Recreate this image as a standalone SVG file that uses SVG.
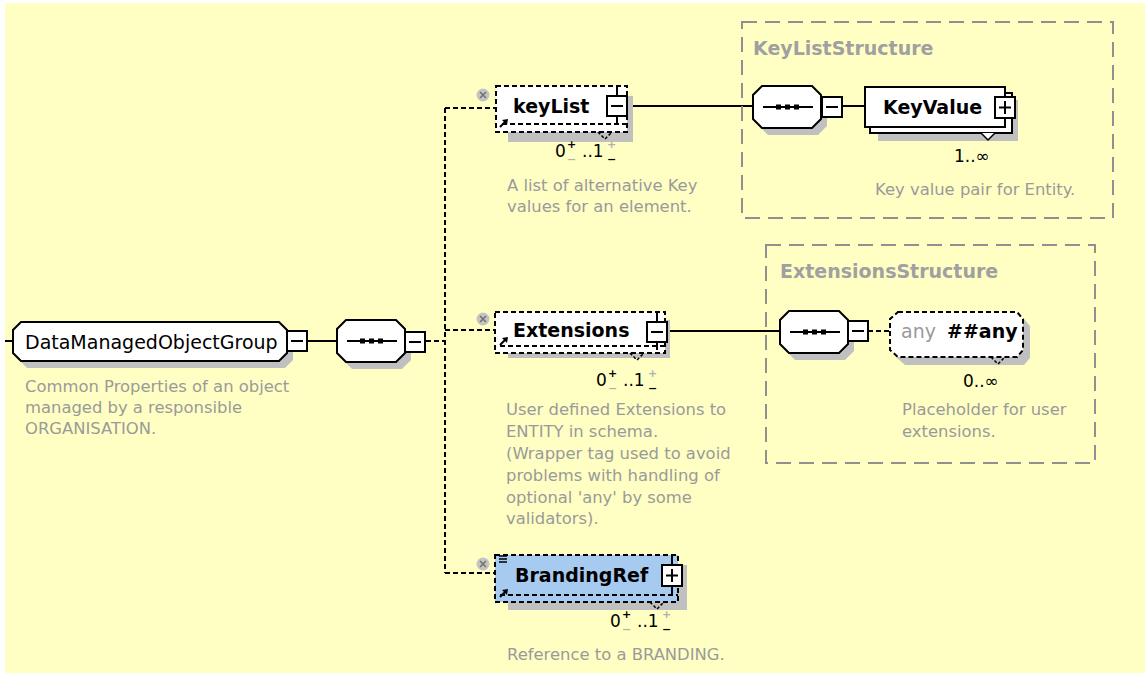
<svg xmlns="http://www.w3.org/2000/svg" xmlns:xlink="http://www.w3.org/1999/xlink" width="1145" height="673" viewBox="0 0 1145 673">
<style>
text{font-family:"DejaVu Sans",Verdana,sans-serif}
.name{font-size:19px;fill:#000}
.bname{font-size:19px;font-weight:bold;fill:#000}
.desc{font-size:16.4px;fill:#9a9a9a}
.title{font-size:19px;font-weight:bold;fill:#a0a0a0}
.occ{font-size:17px;fill:#000}
.pm{font-size:11px;font-weight:bold}
.blk{fill:#000}
.gry{fill:#b0b0b0}
.solid{stroke:#000;stroke-width:2;fill:none}
.dash{stroke:#000;stroke-width:2;fill:none;stroke-dasharray:5 3}
.shadow{fill:#c0c0c0;stroke:none}
.box{fill:#fff;stroke:#000;stroke-width:2}
.dbox{fill:#fff;stroke:#000;stroke-width:2;stroke-dasharray:5 3}
.struct{fill:none;stroke:#909090;stroke-width:2;stroke-dasharray:15 8}
</style>
<defs>
<symbol id="seq" overflow="visible">
<path class="shadow" d="M15,7 H65 L74,16 V40 L65,49 H15 L6,40 V16 Z"/>
<path class="box" d="M9,0 H59 L68,9 V33 L59,42 H9 L0,33 V9 Z"/>
<line x1="10" y1="21" x2="60" y2="21" stroke="#000" stroke-width="2"/>
<rect x="23" y="18.5" width="5" height="5" fill="#000"/>
<rect x="32" y="18.5" width="5" height="5" fill="#000"/>
<rect x="41" y="18.5" width="5" height="5" fill="#000"/>
</symbol>
<symbol id="minus" overflow="visible">
<rect x="0" y="0" width="20" height="20" fill="#fff" stroke="#000" stroke-width="2"/>
<line x1="4" y1="10" x2="16" y2="10" stroke="#000" stroke-width="2"/>
</symbol>
<symbol id="plus" overflow="visible">
<rect x="0" y="0" width="20" height="21" fill="#fff" stroke="#000" stroke-width="2"/>
<line x1="4" y1="10.5" x2="16" y2="10.5" stroke="#000" stroke-width="2"/>
<line x1="10" y1="4" x2="10" y2="17" stroke="#000" stroke-width="2"/>
</symbol>
<symbol id="opt" overflow="visible">
<circle cx="0" cy="0" r="6.5" fill="#c4c4c4"/>
<path d="M-3,-3 L3,3 M3,-3 L-3,3" stroke="#707070" stroke-width="1.5"/>
</symbol>
<symbol id="refarrow" overflow="visible">
<path d="M0,7 L6,1" stroke="#000" stroke-width="2"/>
<path d="M2,0 L8,-1 L7,5 Z" fill="#000"/>
</symbol>
</defs>

<rect x="0" y="0" width="1145" height="673" fill="#fff"/>
<rect x="5" y="3" width="1140" height="670" fill="#ffffc4"/>

<g id="connectors">
<line class="solid" x1="5" y1="341" x2="13" y2="341"/>
<line class="solid" x1="307" y1="341" x2="337" y2="341"/>
<line class="dash" x1="426" y1="341" x2="445" y2="341"/>
<line class="dash" x1="445" y1="108" x2="445" y2="573"/>
<line class="dash" x1="445" y1="108" x2="496" y2="108"/>
<line class="dash" x1="445" y1="330" x2="495" y2="330"/>
<line class="dash" x1="445" y1="573" x2="495" y2="573"/>
<line class="solid" x1="628" y1="106" x2="753" y2="106"/>
<line class="solid" x1="842" y1="106" x2="865" y2="106"/>
<line class="solid" x1="668" y1="331" x2="780" y2="331"/>
<line class="dash" x1="868" y1="331" x2="890" y2="331"/>
</g>

<g id="KeyListStructure">
<rect class="struct" x="742" y="22" width="371" height="196"/>
<text class="title" x="753" y="55">KeyListStructure</text>
</g>

<g id="ExtensionsStructure">
<rect class="struct" x="766" y="245" width="329" height="218"/>
<text class="title" x="780" y="278">ExtensionsStructure</text>
</g>

<g id="DataManagedObjectGroup">
<path class="shadow" d="M27,329 H285 L293,337 V360 L285,368 H27 L19,360 V337 Z"/>
<path class="box" d="M21,322 H279 L287,330 V353 L279,361 H21 L13,353 V330 Z"/>
<text class="name" x="25" y="349">DataManagedObjectGroup</text>
<use href="#minus" x="287" y="331"/>
<text class="desc" x="25" y="392">Common Properties of an object</text>
<text class="desc" x="25" y="413">managed by a responsible</text>
<text class="desc" x="25" y="434">ORGANISATION.</text>
</g>

<g id="sequence-main">
<use href="#seq" x="337" y="320"/>
<use href="#minus" x="405" y="332"/>
</g>

<g id="keyList">
<rect class="shadow" x="508" y="96" width="125" height="46"/>
<rect class="dbox" x="496" y="86" width="131" height="46"/>
<line class="dash" x1="502" y1="124" x2="627" y2="124"/>
<path d="M598,132 L605,139 L612,132" fill="none" stroke="#000" stroke-width="1.5" stroke-dasharray="3 2"/>
<text class="bname" x="513" y="113">keyList</text>
<line x1="617" y1="86" x2="617" y2="96" stroke="#000" stroke-width="2"/>
<line x1="617" y1="116" x2="617" y2="124" stroke="#000" stroke-width="2"/>
<use href="#minus" x="607" y="96"/>
<use href="#opt" x="483" y="95"/>
<use href="#refarrow" x="500" y="120"/>
<text class="occ" x="555" y="157">0<tspan class="pm blk" x="567" y="148">+</tspan><tspan class="pm gry" x="567" y="163">−</tspan><tspan x="582" y="157">..1</tspan><tspan class="pm gry" x="607" y="148">+</tspan><tspan class="pm blk" x="607" y="163">−</tspan></text>
<text class="desc" x="507" y="191">A list of alternative Key</text>
<text class="desc" x="507" y="212">values for an element.</text>
</g>

<g id="sequence-keylist">
<use href="#seq" x="753" y="86"/>
<use href="#minus" x="822" y="97"/>
</g>

<g id="KeyValue">
<rect class="shadow" x="878" y="100" width="140" height="41"/>
<rect class="box" x="870" y="93" width="142" height="40"/>
<rect class="box" x="865" y="87" width="140" height="40"/>
<path d="M981,133 L988,140 L995,133" fill="#fff" stroke="#000" stroke-width="1.5"/>
<text class="bname" x="883" y="114">KeyValue</text>
<use href="#plus" x="995" y="97"/>
<text class="occ" x="954" y="162">1..∞</text>
<text class="desc" x="875" y="195">Key value pair for Entity.</text>
</g>

<g id="Extensions">
<rect class="shadow" x="508" y="320" width="162" height="38"/>
<rect class="dbox" x="495" y="312" width="170" height="41"/>
<line class="dash" x1="500" y1="346" x2="665" y2="346"/>
<path d="M630,353 L637,360 L644,353" fill="none" stroke="#000" stroke-width="1.5" stroke-dasharray="3 2"/>
<text class="bname" x="513" y="337">Extensions</text>
<line x1="657" y1="312" x2="657" y2="322" stroke="#000" stroke-width="2"/>
<line x1="657" y1="342" x2="657" y2="350" stroke="#000" stroke-width="2"/>
<use href="#minus" x="647" y="322"/>
<use href="#opt" x="483" y="319"/>
<use href="#refarrow" x="500" y="338"/>
<text class="occ" x="596" y="386">0<tspan class="pm blk" x="608" y="377">+</tspan><tspan class="pm gry" x="608" y="392">−</tspan><tspan x="623" y="386">..1</tspan><tspan class="pm gry" x="648" y="377">+</tspan><tspan class="pm blk" x="648" y="392">−</tspan></text>
<text class="desc" x="506" y="415">User defined Extensions to</text>
<text class="desc" x="506" y="437">ENTITY in schema.</text>
<text class="desc" x="506" y="459">(Wrapper tag used to avoid</text>
<text class="desc" x="506" y="481">problems with handling of</text>
<text class="desc" x="506" y="503">optional 'any' by some</text>
<text class="desc" x="506" y="524">validators).</text>
</g>

<g id="sequence-extensions">
<use href="#seq" x="780" y="311"/>
<use href="#minus" x="848" y="321"/>
</g>

<g id="any">
<path class="shadow" d="M905,319 H1024 L1030,326 V358 L1024,365 H905 L897,358 V326 Z"/>
<path class="dbox" d="M898,312 H1017 L1023,319 V350 L1017,357 H898 L890,350 V319 Z"/>
<path d="M991,357 L998,364 L1005,357" fill="none" stroke="#000" stroke-width="1.5" stroke-dasharray="3 2"/>
<text x="901" y="338" style="font-size:19px;fill:#9a9a9a">any</text>
<text class="bname" x="947" y="338">##any</text>
<text class="occ" x="963" y="387">0..∞</text>
<text class="desc" x="902" y="415">Placeholder for user</text>
<text class="desc" x="902" y="437">extensions.</text>
</g>

<g id="BrandingRef">
<rect class="shadow" x="508" y="565" width="179" height="45"/>
<rect x="495" y="555" width="183" height="47" fill="#a6caf0" stroke="#000" stroke-width="2" stroke-dasharray="5 3"/>
<line class="dash" x1="500" y1="595" x2="678" y2="595"/>
<path d="M650,602 L657,609 L664,602" fill="none" stroke="#000" stroke-width="1.5" stroke-dasharray="3 2"/>
<text class="bname" x="515" y="582">BrandingRef</text>
<line x1="672" y1="555" x2="672" y2="565" stroke="#000" stroke-width="2"/>
<line x1="672" y1="587" x2="672" y2="595" stroke="#000" stroke-width="2"/>
<use href="#plus" x="662" y="565"/>
<use href="#opt" x="483" y="564"/>
<path d="M499,556 H507 M499,559 H507 M499,562 H507" stroke="#000" stroke-width="1.5"/>
<use href="#refarrow" x="500" y="590"/>
<text class="occ" x="610" y="627">0<tspan class="pm blk" x="622" y="618">+</tspan><tspan class="pm gry" x="622" y="633">−</tspan><tspan x="637" y="627">..1</tspan><tspan class="pm gry" x="662" y="618">+</tspan><tspan class="pm blk" x="662" y="633">−</tspan></text>
<text class="desc" x="507" y="660">Reference to a BRANDING.</text>
</g>
</svg>
